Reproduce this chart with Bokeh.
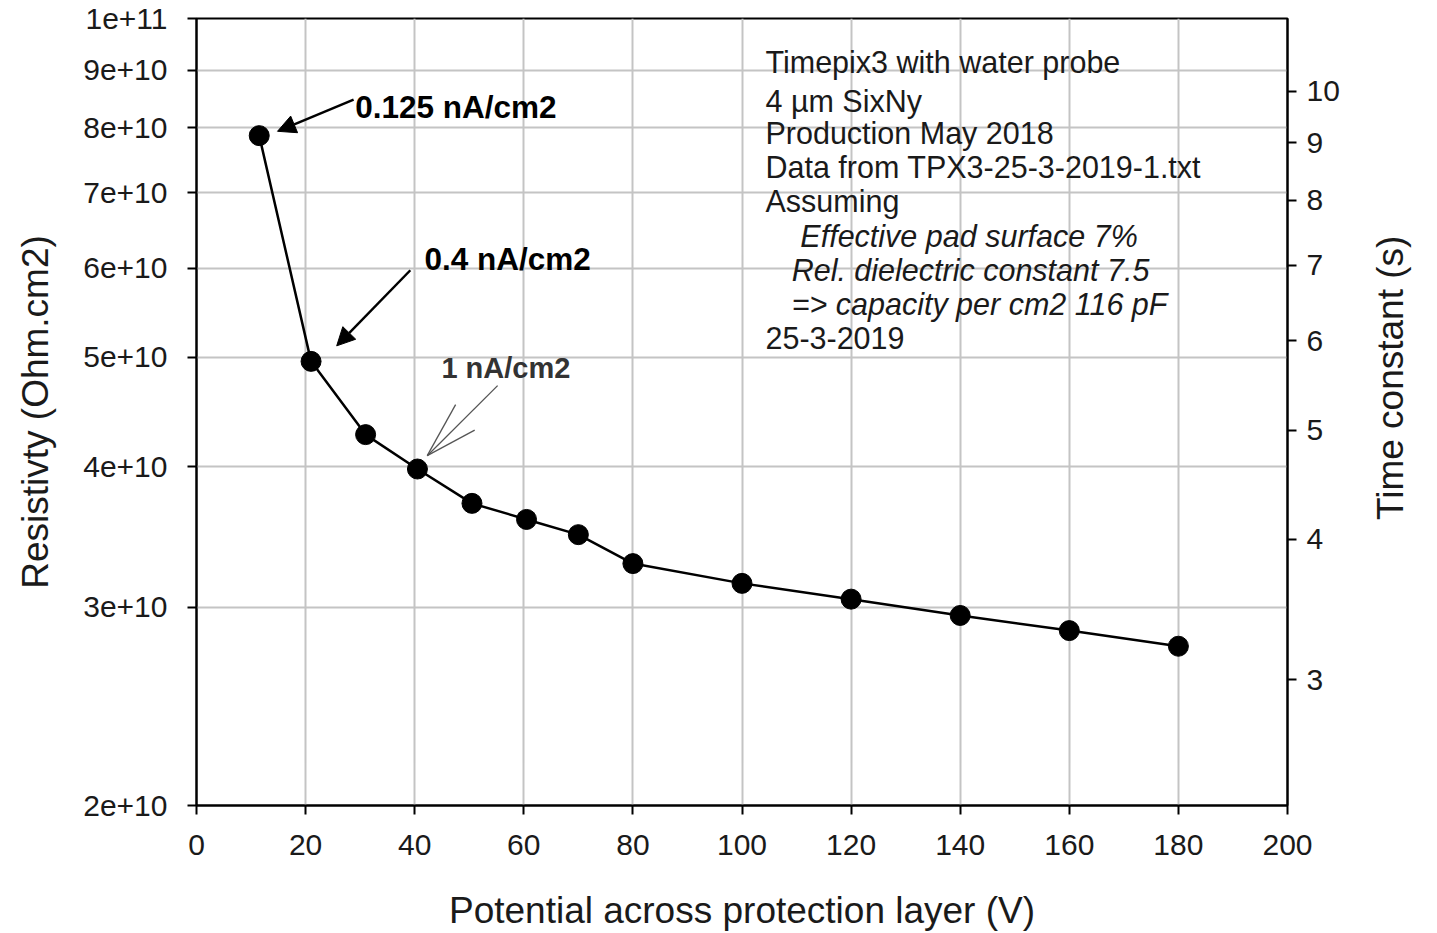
import math
from bokeh.plotting import figure
from bokeh.layouts import row
from bokeh.models import (Range1d, LogScale, LogAxis, FixedTicker, CustomJSTickFormatter,
                          Arrow, NormalHead, Label)
from bokeh.core.properties import value
from bokeh.embed import file_html
from bokeh.resources import INLINE

# ---- data ----
potential_v = [11.5, 21, 31, 40.5, 50.5, 60.5, 70, 80, 100, 120, 140, 160, 180]
resistivity = [7.87e10, 4.96e10, 4.27e10, 3.98e10, 3.71e10, 3.59e10, 3.48e10,
               3.28e10, 3.15e10, 3.05e10, 2.95e10, 2.86e10, 2.77e10]
capacity_per_cm2 = 116e-12  # F/cm2
x_ticks = [0, 20, 40, 60, 80, 100, 120, 140, 160, 180, 200]
y_ticks = [2e10, 3e10, 4e10, 5e10, 6e10, 7e10, 8e10, 9e10, 1e11]
tau_ticks = [3, 4, 5, 6, 7, 8, 9, 10]
info_lines = ["Timepix3 with water probe", "4 \u00b5m SixNy", "Production May 2018",
              "Data from TPX3-25-3-2019-1.txt", "Assuming",
              "Effective pad surface 7%", "Rel. dielectric constant 7.5",
              "=> capacity per cm2 116 pF", "25-3-2019"]
info_italic = [False, False, False, False, False, True, True, True, False]

FONT = "Liberation Sans"
TXT = "#1a1a1a"
GRID = "#c4c4c4"
W_MAIN, W_SIDE, H = 1360, 77, 933

y_lo, y_hi = 2e10, 1e11
p = figure(width=W_MAIN, height=H, x_range=Range1d(0, 200), y_range=Range1d(y_lo, y_hi),
           y_axis_type="log", output_backend="svg", toolbar_location=None,
           min_border_left=196, min_border_right=73, min_border_top=18, min_border_bottom=127,
           background_fill_color="white", border_fill_color="white")
p.outline_line_color = "black"
p.outline_line_width = 2

p.extra_y_ranges = {"tau": Range1d(y_lo * capacity_per_cm2, y_hi * capacity_per_cm2)}
p.extra_y_scales = {"tau": LogScale()}

def style_axis(ax):
    ax.axis_line_color = "black"
    ax.axis_line_width = 2
    ax.major_tick_line_color = "black"
    ax.major_tick_line_width = 2
    ax.major_tick_out = 9
    ax.major_tick_in = 0
    ax.minor_tick_line_color = None
    ax.major_label_text_font = FONT
    ax.major_label_text_font_size = "30px"
    ax.major_label_text_color = TXT
    ax.axis_label_text_font = FONT
    ax.axis_label_text_font_size = "37px"
    ax.axis_label_text_font_style = "normal"
    ax.axis_label_text_color = TXT

style_axis(p.xaxis[0])
style_axis(p.yaxis[0])

p.xaxis.ticker = FixedTicker(ticks=x_ticks)
p.xaxis.axis_label = "Potential across protection layer (V)"
p.xaxis.major_label_standoff = 20
p.xaxis.axis_label_standoff = 32

p.yaxis.ticker = FixedTicker(ticks=y_ticks)
p.yaxis.formatter = CustomJSTickFormatter(code="""
const e = Math.floor(Math.log10(tick) + 1e-9);
const m = Math.round(tick / Math.pow(10, e));
return m + 'e+' + e;
""")
p.yaxis.axis_label = "Resistivty (Ohm.cm2)"
p.yaxis.major_label_standoff = 20
p.yaxis.axis_label_standoff = 24

rax = LogAxis(y_range_name="tau", ticker=FixedTicker(ticks=tau_ticks))
style_axis(rax)
rax.major_label_standoff = 10
p.add_layout(rax, "right")

p.xgrid.grid_line_color = GRID
p.xgrid.grid_line_width = 2
p.ygrid.grid_line_color = GRID
p.ygrid.grid_line_width = 2
p.xgrid.ticker = FixedTicker(ticks=x_ticks)
p.ygrid.ticker = FixedTicker(ticks=y_ticks)

# data
p.line(potential_v, resistivity, line_color="black", line_width=2.5)
p.scatter(potential_v, resistivity, size=20, fill_color="black", line_color="black")

# annotations
def lab(x, y, t, size="31px", style="bold", color="black"):
    p.add_layout(Label(x=x, y=y, text=t, text_font=FONT, text_font_size=size,
                       text_font_style=style, text_color=color, text_baseline="middle",
                       text_align="left"))

lab(29.1, 8.35e10, "0.125 nA/cm2", size="31.5px")
p.add_layout(Arrow(x_start=28.8, y_start=8.47e10, x_end=14.85, y_end=7.94e10,
                   line_width=2.5, line_color="black",
                   end=NormalHead(size=18, fill_color="black", line_color="black")))
lab(41.8, 6.11e10, "0.4 nA/cm2", size="31.5px")
p.add_layout(Arrow(x_start=39.2, y_start=5.976e10, x_end=25.7, y_end=5.12e10,
                   line_width=2.5, line_color="black",
                   end=NormalHead(size=18, fill_color="black", line_color="black")))
lab(44.9, 4.89e10, "1 nA/cm2", size="29px", color="#333333")
# thin open arrow for 1 nA/cm2
p.segment(x0=[42.3, 42.3, 42.3], y0=[4.09e10, 4.09e10, 4.09e10],
          x1=[55.2, 47.5, 51.0], y1=[4.72e10, 4.54e10, 4.31e10],
          line_color="#555555", line_width=1.3)

info_x = [104.3, 104.3, 104.3, 104.3, 104.3, 110.7, 109.1, 109.1, 104.3]
info_y = [9.14e10, 8.45e10, 7.91e10, 7.38e10, 6.88e10, 6.41e10, 5.98e10, 5.58e10, 5.20e10]
for t, it, xx, yy in zip(info_lines, info_italic, info_x, info_y):
    lab(xx, yy, t, size="30.5px", style="italic" if it else "normal", color=TXT)

# right-hand axis title, in a narrow side panel (reads bottom-to-top)
side = figure(width=W_SIDE, height=H, x_range=Range1d(0, W_SIDE), y_range=Range1d(0, H),
              output_backend="svg", toolbar_location=None, min_border=0,
              background_fill_color="white", border_fill_color="white")
side.axis.visible = False
side.grid.visible = False
side.outline_line_color = None
side.text(x=[30], y=[H - 426], text=["Time constant (s)"], angle=math.pi / 2,
          text_font=value(FONT), text_font_size="37px", text_color=TXT,
          text_align="center", text_baseline="middle")

layout = row(p, side, spacing=0)
open("out.html", "w").write(file_html(layout, INLINE))
